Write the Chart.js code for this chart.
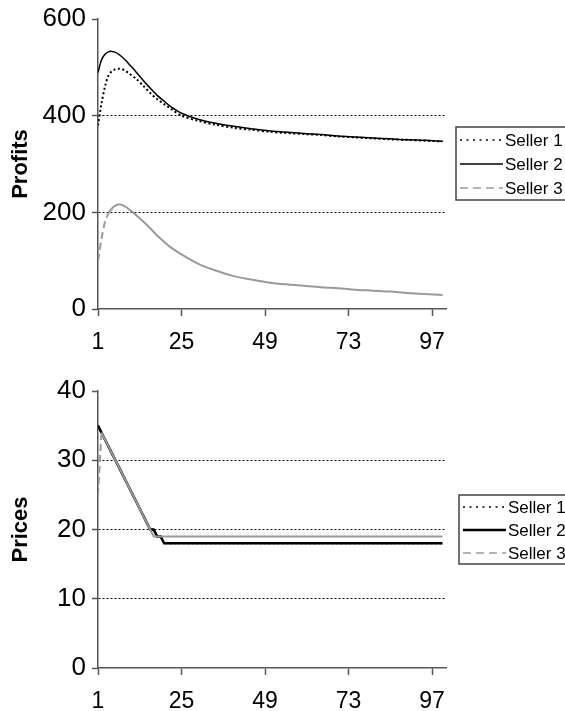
<!DOCTYPE html>
<html>
<head>
<meta charset="utf-8">
<script src="https://cdn.jsdelivr.net/npm/chart.js@4.4.1/dist/chart.umd.min.js"></script>
<style>
  html, body { margin: 0; padding: 0; background: #fff; }
  canvas { display: block; }
</style>
</head>
<body>
<canvas id="profitChart" width="565" height="355"></canvas>
<canvas id="priceChart" width="565" height="356"></canvas>
<script>
// values
var sellerNames = ['Seller 1', 'Seller 2', 'Seller 3'];
var periodTicks = [1, 25, 49, 73, 97];

var profitPeriods = [1,2,3,4,5,6,7,8,9,10,12,14,16,18,20,22,25,30,35,40,45,50,55,60,65,70,75,80,85,90,95,100];
var profitSeller1 = [380,425,460,483,492,496,497,496,492,487,476,462,447,434,424,414,400,389,381,375,371,367,364,362,360,357,355,353,351,350,348,347];
var profitSeller2 = [489,515,527,532,533,531,527,521,514,506,490,473,457,442,430,418,405,392,384,378,373,369,366,363,361,358,356,354,352,350,349,347];
var profitSeller3 = [100,145,180,198,208,214,216,215,211,206,194,181,167,152,139,127,113,93,79,68,61,55,51,48,45,43,40,38,36,33,31,29];
var profitTicks = [0, 200, 400, 600];

var pricePeriods = [1,2,3,4,5,6,7,8,9,10,11,12,13,14,15,16,17,18,19,20,21,22,100];
var priceSeller1 = [35,34,33,32,31,30,29,28,27,26,25,24,23,22,21,20,20,19,19,18,18,18,18];
var priceSeller2 = [35,34,33,32,31,30,29,28,27,26,25,24,23,22,21,20,20,19,19,18,18,18,18];
var priceSeller3 = [25,34,33,32,31,30,29,28,27,26,25,24,23,22,21,20,19,19,19,19,19,19,19];
var priceTicks = [0, 10, 20, 30, 40];

var FONT = '"Liberation Sans", Arial, sans-serif';
var AXIS = '#555';

function points(xs, ys) {
    return xs.map(function (x, i) { return { x: x, y: ys[i] }; });
}

// dash only the first steep segments, like the original plot
function earlyDash(limit, dash) {
    return function (ctx) {
        return ctx.p0.parsed.x < limit ? dash : undefined;
    };
}

var legendBox = {
    id: 'legendBox',
    afterDraw: function (chart, args, opts) {
        var ctx = chart.ctx;
        ctx.save();
        ctx.strokeStyle = '#444';
        ctx.lineWidth = 1.5;
        ctx.setLineDash([]);
        ctx.strokeRect(opts.x, opts.y, opts.w, opts.h);
        chart.data.datasets.forEach(function (ds, i) {
            var y = opts.y + opts.first + i * opts.gap;
            ctx.beginPath();
            ctx.setLineDash(ds.legendDash);
            ctx.strokeStyle = ds.borderColor;
            ctx.lineWidth = ds.legendWidth;
            ctx.moveTo(opts.x + 4, y);
            ctx.lineTo(opts.x + 47, y);
            ctx.stroke();
            ctx.setLineDash([]);
            ctx.fillStyle = '#000';
            ctx.font = '17px ' + FONT;
            ctx.textBaseline = 'middle';
            ctx.textAlign = 'left';
            ctx.fillText(ds.label, opts.x + 49, y + 1);
        });
        ctx.restore();
    }
};

function makeChart(id, cfg) {
    var gridColor = function (c) {
        var v = c.tick && c.tick.value;
        return (v === cfg.yMin || v === cfg.yMax) ? 'rgba(0,0,0,0)' : '#000';
    };
    return new Chart(document.getElementById(id), {
        type: 'line',
        data: {
            datasets: [
                {
                    label: sellerNames[0],
                    data: points(cfg.periods, cfg.s1),
                    borderColor: '#000',
                    borderWidth: 2,
                    borderDash: [2, 2.5],
                    legendDash: [2, 4.5],
                    legendWidth: 1.6,
                    order: 1
                },
                {
                    label: sellerNames[1],
                    data: points(cfg.periods, cfg.s2),
                    borderColor: '#000',
                    borderWidth: cfg.solidWidth,
                    borderDash: [],
                    legendDash: [],
                    legendWidth: cfg.solidWidth,
                    order: 2
                },
                {
                    label: sellerNames[2],
                    data: points(cfg.periods, cfg.s3),
                    borderColor: '#9a9a9a',
                    borderWidth: 2,
                    borderDash: [],
                    segment: { borderDash: earlyDash(cfg.dashUntil, [7, 4]) },
                    legendDash: [8, 5],
                    legendWidth: 1.6,
                    order: 0
                }
            ]
        },
        options: {
            responsive: false,
            animation: false,
            devicePixelRatio: 1,
            layout: { padding: { top: cfg.top, right: 119, left: 0, bottom: 0 } },
            elements: { point: { radius: 0 }, line: { tension: cfg.tension, borderCapStyle: 'butt' } },
            plugins: {
                legend: { display: false },
                tooltip: { enabled: false },
                legendBox: cfg.legend
            },
            scales: {
                x: {
                    type: 'linear',
                    min: 1,
                    max: 101,
                    afterBuildTicks: function (s) {
                        s.ticks = periodTicks.map(function (v) { return { value: v }; });
                    },
                    afterFit: function (s) { s.height = cfg.xHeight; },
                    grid: { drawOnChartArea: false, tickLength: 7, tickColor: AXIS, tickWidth: 1.5 },
                    border: { color: AXIS, width: 1.5 },
                    ticks: { color: '#000', padding: 13, maxRotation: 0, font: { family: FONT, size: 23 } }
                },
                y: {
                    min: cfg.yMin,
                    max: cfg.yMax,
                    afterBuildTicks: function (s) {
                        s.ticks = cfg.yTicks.map(function (v) { return { value: v }; });
                    },
                    afterFit: function (s) { s.width = 98; },
                    grid: { color: gridColor, lineWidth: 1, tickLength: 6, tickColor: AXIS, tickWidth: 1.5, tickBorderDash: [] },
                    border: { color: AXIS, width: 1.5, dash: [2, 2] },
                    ticks: { color: '#000', padding: 6, font: { family: FONT, size: 26, lineHeight: 1 } },
                    title: {
                        display: true,
                        text: cfg.title,
                        color: '#000',
                        padding: { top: 8, bottom: 0 },
                        font: { family: FONT, size: 22, weight: 'bold' }
                    }
                }
            }
        },
        plugins: [legendBox]
    });
}

makeChart('profitChart', {
    periods: profitPeriods, s1: profitSeller1, s2: profitSeller2, s3: profitSeller3,
    yMin: 0, yMax: 600, yTicks: profitTicks, title: 'Profits',
    top: 18, xHeight: 46, solidWidth: 1.5, dashUntil: 4, tension: 0.3,
    legend: { x: 456, y: 127, w: 120, h: 73, first: 13, gap: 24 }
});

makeChart('priceChart', {
    periods: pricePeriods, s1: priceSeller1, s2: priceSeller2, s3: priceSeller3,
    yMin: 0, yMax: 40, yTicks: priceTicks, title: 'Prices',
    top: 36, xHeight: 43, solidWidth: 2.5, dashUntil: 2, tension: 0,
    legend: { x: 459, y: 140, w: 120, h: 69, first: 12, gap: 23 }
});
</script>
</body>
</html>
